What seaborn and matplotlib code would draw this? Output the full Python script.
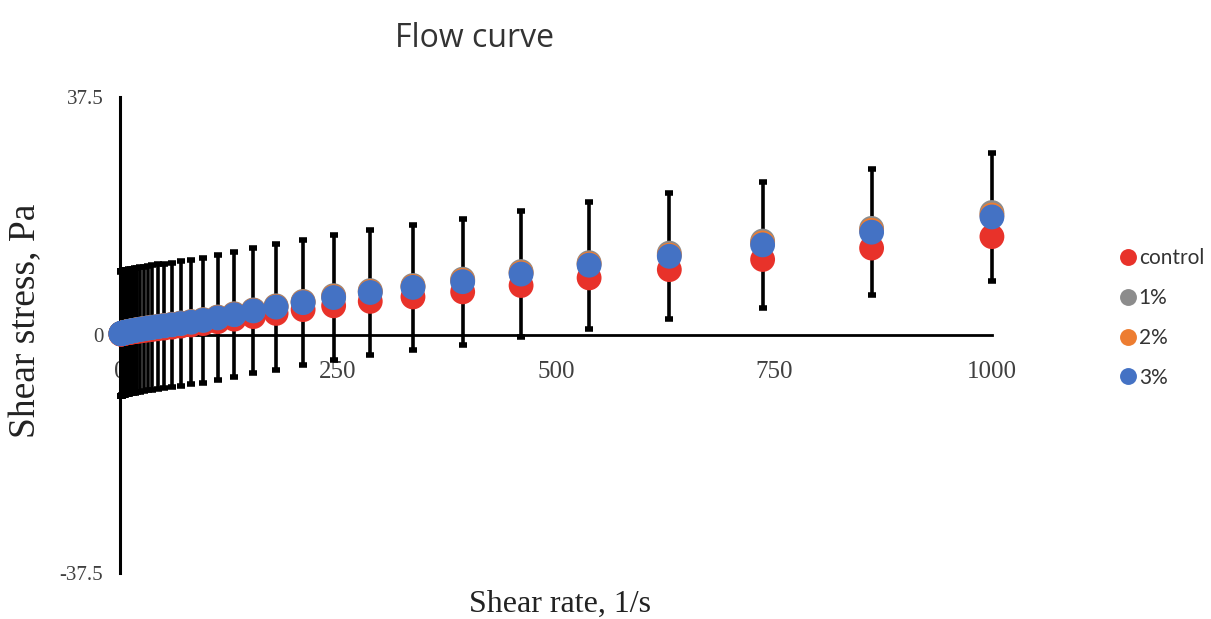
import numpy as np
import pandas as pd
import matplotlib
matplotlib.use("Agg")
import matplotlib.pyplot as plt
import seaborn as sns

# ================================
# data
# ================================
shear_rate = [1.0, 1.17, 1.37, 1.6, 1.87, 2.19, 2.56, 3.0, 3.51, 4.1,
              4.8, 5.62, 6.58, 7.7, 9.0, 10.5, 12.3, 14.4, 16.9, 19.8,
              23.1, 27.1, 31.7, 37.1, 43.4, 50.8, 59.5, 69.6, 81.5, 95.4,
              112, 131, 153, 179, 210, 245, 287, 336, 393, 460,
              538, 630, 737, 862, 1000]

stress_control = [0.14, 0.15, 0.16, 0.17, 0.18, 0.19, 0.20, 0.22, 0.23, 0.25,
                  0.27, 0.29, 0.31, 0.34, 0.37, 0.40, 0.44, 0.48, 0.53, 0.58,
                  0.64, 0.71, 0.79, 0.88, 0.98, 1.10, 1.24, 1.40, 1.58, 1.80,
                  2.10, 2.50, 2.90, 3.40, 4.00, 4.60, 5.30, 6.00, 6.80, 7.80,
                  9.00, 10.3, 11.9, 13.7, 15.5]

stress_1 = [0.22, 0.23, 0.24, 0.25, 0.27, 0.28, 0.30, 0.32, 0.34, 0.36,
            0.39, 0.42, 0.45, 0.49, 0.53, 0.58, 0.63, 0.69, 0.76, 0.84,
            0.92, 1.01, 1.12, 1.23, 1.37, 1.52, 1.69, 1.89, 2.12, 2.42,
            2.84, 3.35, 3.95, 4.60, 5.30, 6.20, 7.00, 7.80, 8.80, 10.0,
            11.4, 12.9, 14.8, 16.8, 19.3]

stress_2 = [0.21, 0.22, 0.23, 0.24, 0.26, 0.27, 0.29, 0.31, 0.33, 0.35,
            0.38, 0.41, 0.44, 0.47, 0.51, 0.56, 0.61, 0.67, 0.74, 0.82,
            0.90, 0.99, 1.09, 1.20, 1.34, 1.48, 1.65, 1.84, 2.07, 2.36,
            2.77, 3.28, 3.88, 4.50, 5.20, 6.05, 6.85, 7.65, 8.60, 9.80,
            11.2, 12.6, 14.5, 16.5, 18.9]

stress_3 = [0.20, 0.21, 0.22, 0.23, 0.25, 0.26, 0.28, 0.30, 0.32, 0.34,
            0.37, 0.40, 0.43, 0.46, 0.50, 0.55, 0.60, 0.66, 0.73, 0.80,
            0.88, 0.97, 1.07, 1.18, 1.31, 1.45, 1.61, 1.80, 2.02, 2.30,
            2.70, 3.20, 3.80, 4.40, 5.10, 5.90, 6.70, 7.50, 8.40, 9.60,
            11.0, 12.4, 14.2, 16.2, 18.6]

stress_sd = [9.8, 9.8, 9.8, 9.8, 9.8, 9.8, 9.8, 9.8, 9.8, 9.8,
             9.8, 9.8, 9.8, 9.8, 9.8, 9.8, 9.8, 9.8, 9.8, 9.8,
             9.8, 9.8, 9.8, 9.8, 9.8, 9.8, 9.8, 9.8, 9.8, 9.8,
             9.85, 9.85, 9.85, 9.9, 9.9, 9.9, 9.9, 9.9, 9.9, 9.9,
             10.0, 9.9, 9.95, 9.9, 10.1]

series_names = ["control", "1%", "2%", "3%"]
series_colors = ["#e8322a", "#8c8c8c", "#ed7d31", "#4472c4"]

df = pd.DataFrame({
    "rate": shear_rate * 4,
    "stress": stress_control + stress_1 + stress_2 + stress_3,
    "group": sum([[n] * len(shear_rate) for n in series_names], []),
})

# ================================
# figure
# ================================
sns.set_style("white")
plt.rcParams["font.family"] = ["Liberation Serif", "DejaVu Sans"]

fig = plt.figure(figsize=(12.11, 6.19), dpi=100)
ax = fig.add_axes([0.0991, 0.0743, 0.7200, 0.7690])

# error bars (on the 3% series), behind the markers
eb = ax.errorbar(shear_rate, stress_3, yerr=stress_sd, fmt="none",
                 ecolor="black", elinewidth=2.6, capsize=3, capthick=4,
                 zorder=1)
for c in list(eb.lines[1]) + list(eb.lines[2]):
    c.set_clip_on(False)

sns.scatterplot(data=df, x="rate", y="stress", hue="group",
                hue_order=series_names, palette=series_colors,
                s=320, linewidth=0, alpha=1, ax=ax, legend=True, zorder=3)
for coll in ax.collections:
    coll.set_clip_on(False)

ax.set_xlim(0, 1000)
ax.set_ylim(-37.5, 37.5)
ax.set_xticks([0, 250, 500, 750, 1000])
ax.set_yticks([-37.5, 0, 37.5])
ax.set_yticklabels(["-37.5", "0", "37.5"])

ax.spines["top"].set_visible(False)
ax.spines["right"].set_visible(False)
ax.spines["bottom"].set_position(("data", 0))
ax.spines["left"].set_linewidth(2.2)
ax.spines["bottom"].set_linewidth(2.0)
ax.spines["left"].set_color("black")
ax.spines["bottom"].set_color("black")

ax.tick_params(axis="x", direction="out", length=7, width=2, pad=12,
               labelsize=18)
ax.tick_params(axis="y", direction="out", length=5, width=2.5, pad=7,
               labelsize=15)
for lab in ax.get_xticklabels() + ax.get_yticklabels():
    lab.set_color("#404040")

ax.set_xlabel("Shear rate, 1/s", fontsize=23, color="#222222")
ax.xaxis.set_label_coords(0.505, -0.035)
ax.set_ylabel("Shear stress, Pa", fontsize=27, color="#222222")
ax.yaxis.set_label_coords(-0.088, 0.53)

fig.text(0.392, 0.937, "Flow curve", fontsize=23, family="Open Sans",
         color="#333333", ha="center", va="center")

leg = ax.legend(loc="center left", bbox_to_anchor=(1097 / 1211, 1 - 318 / 619),
                bbox_transform=fig.transFigure,
                frameon=False, prop={"family": "Lato", "size": 15},
                handletextpad=-0.5, labelspacing=0.95, markerscale=0.68,
                borderpad=0)
for t in leg.get_texts():
    t.set_color("#333333")

fig.savefig("out.png", dpi=100)
